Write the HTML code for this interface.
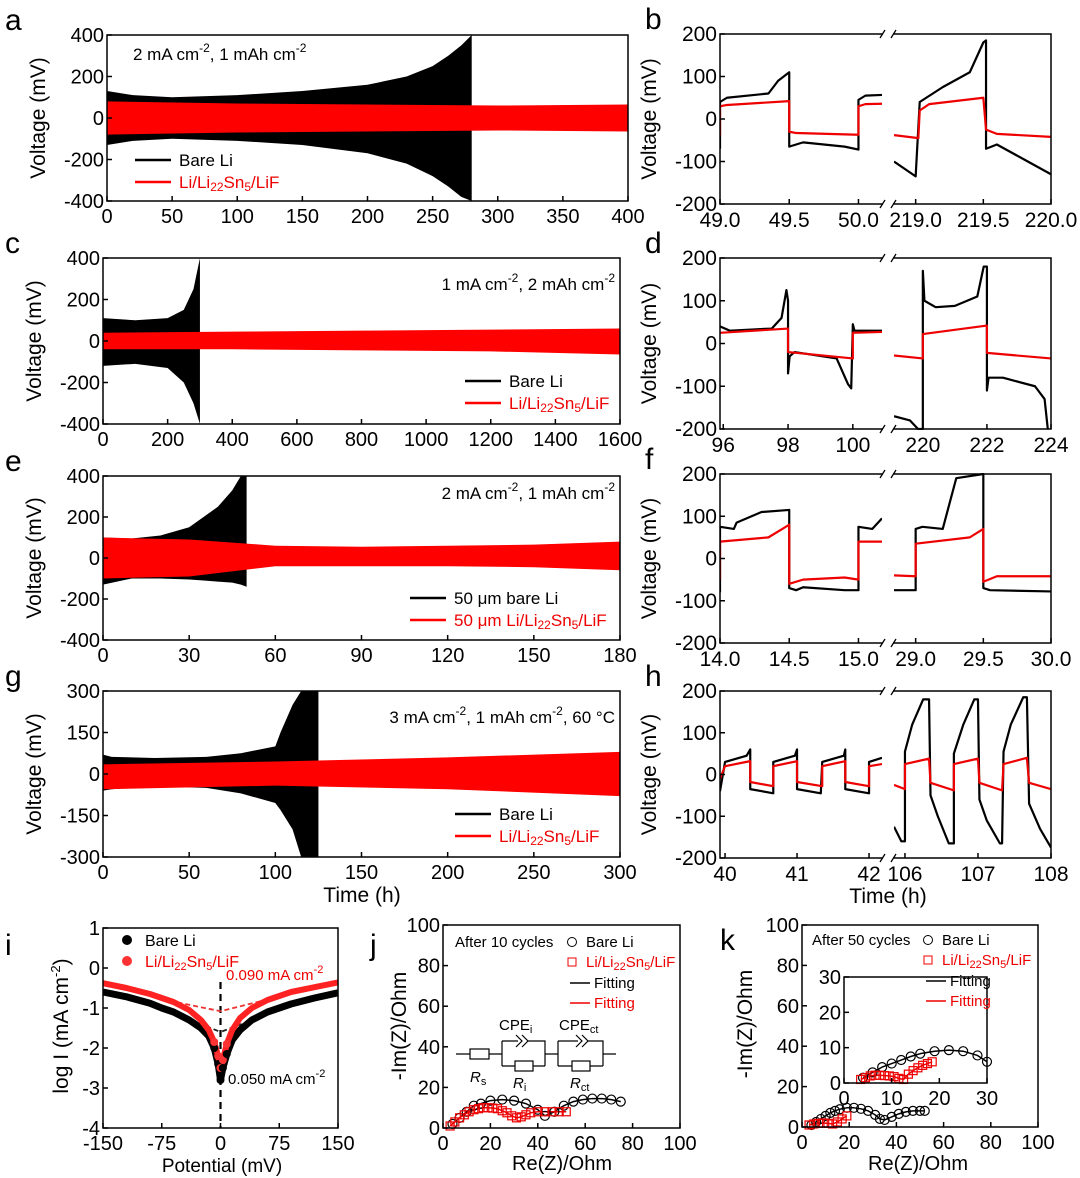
<!DOCTYPE html>
<html><head><meta charset="utf-8"><style>
body{margin:0;background:#fff}
svg{display:block;font-family:"Liberation Sans",Arial,sans-serif}
</style></head><body>
<svg id="fig" width="1080" height="1178" viewBox="0 0 1080 1178" xmlns="http://www.w3.org/2000/svg"></svg>
<script>
// ---------- data ----------
const aBlackT=[0,20,50,100,150,200,230,250,262,272,280];
const aBlackHi=[130,110,100,110,130,160,200,250,300,350,400];
const aBlackLo=[-130,-110,-100,-110,-130,-170,-220,-280,-330,-380,-400];
const aRedT=[0,100,200,300,400];
const aRedHi=[80,70,65,60,65];
const aRedLo=[-80,-70,-65,-60,-65];
const bLBx=[49.0,49.0,49.0,49.05,49.35,49.42,49.5,49.5,49.6,49.9,50.0,50.0,50.05,50.2];
const bLBy=[-70,-40,40,50,60,90,110,-65,-55,-65,-72,45,55,57];
const bLRx=[49.0,49.0,49.05,49.5,49.5,49.55,50.0,50.0,50.05,50.2];
const bLRy=[-40,30,33,42,-30,-33,-37,30,35,36];
const bRBx=[218.84,219.0,219.03,219.2,219.4,219.5,219.52,219.52,219.6,219.8,220.0];
const bRBy=[-100,-135,40,75,110,180,185,-70,-60,-95,-130];
const bRRx=[218.84,219.02,219.03,219.1,219.5,219.52,219.6,220.0];
const bRRy=[-38,-45,20,35,50,-25,-35,-42];
const cBlackT=[0,100,200,250,280,300];
const cBlackHi=[110,100,110,150,250,400];
const cBlackLo=[-120,-110,-130,-200,-300,-400];
const cRedT=[0,400,800,1200,1600];
const cRedHi=[40,45,50,55,60];
const cRedLo=[-40,-40,-45,-50,-65];
const dLBx=[95.9,96.2,97.5,97.8,97.95,98.0,98.0,98.05,98.2,99.5,99.85,99.95,100.0,100.05,100.9];
const dLBy=[40,30,35,60,125,100,-70,-30,-20,-35,-95,-105,45,30,30];
const dLRx=[95.9,98.0,98.0,100.0,100.0,100.9];
const dLRy=[25,35,-20,-35,25,27];
const dRBx=[219.1,219.6,219.85,220.0,220.0,220.05,220.4,221.0,221.7,221.9,222.0,222.0,222.05,222.5,223.5,223.8,223.9];
const dRBy=[-170,-180,-200,-200,170,100,85,88,110,180,180,-110,-80,-80,-100,-130,-200];
const dRRx=[219.1,220.0,220.0,222.0,222.0,224.0];
const dRRy=[-28,-35,22,42,-22,-35];
const eBlackT=[0,10,20,30,35,40,45,48,50];
const eBlackHi=[100,95,110,150,200,250,330,400,400];
const eBlackLo=[-130,-100,-100,-105,-110,-115,-120,-130,-140];
const eRedT=[0,30,60,90,120,150,180];
const eRedHi=[100,90,60,55,60,65,80];
const eRedLo=[-100,-90,-40,-40,-40,-45,-60];
const fLBx=[14.0,14.0,14.1,14.12,14.3,14.5,14.5,14.55,14.6,14.9,15.0,15.0,15.1,15.17];
const fLBy=[-80,75,70,85,110,115,-70,-75,-68,-75,-75,75,70,95];
const fLRx=[14.0,14.0,14.35,14.45,14.5,14.5,14.6,14.9,15.0,15.0,15.17];
const fLRy=[-50,40,50,70,80,-60,-50,-45,-50,40,40];
const fRBx=[28.84,29.0,29.0,29.05,29.2,29.25,29.3,29.5,29.5,29.55,30.0];
const fRBy=[-75,-75,70,75,70,130,190,200,-70,-75,-78];
const fRRx=[28.84,29.0,29.0,29.4,29.5,29.5,29.6,30.0];
const fRRy=[-40,-42,35,50,70,-55,-42,-42];
const gBlackT=[0,5,30,60,80,100,103,110,115,125];
const gBlackHi=[70,62,58,62,75,100,150,250,300,300];
const gBlackLo=[-60,-55,-45,-50,-70,-105,-130,-200,-300,-300];
const gRedT=[0,100,200,300];
const gRedHi=[35,45,60,80];
const gRedLo=[-55,-42,-55,-80];
const hLBx=[39.93,40.0,40.3,40.35,40.35,40.67,40.67,40.97,41.0,41.0,41.33,41.35,41.65,41.67,41.67,42.0,42.0,42.18];
const hLBy=[-40,30,45,60,-35,-45,30,45,60,-35,-45,30,45,60,-35,-45,30,40];
const hLRx=[39.93,40.0,40.35,40.35,40.67,40.67,41.0,41.0,41.35,41.35,41.67,41.67,42.0,42.0,42.18];
const hLRy=[-10,20,32,-18,-28,20,32,-18,-28,20,32,-18,-28,20,25];
const hRBx=[105.85,105.95,106.0,106.0,106.1,106.25,106.33,106.35,106.45,106.6,106.67,106.67,106.8,106.95,107.0,107.02,107.12,107.3,107.33,107.35,107.45,107.62,107.67,107.7,107.85,108.0];
const hRBy=[-125,-160,-160,55,120,180,180,-50,-100,-165,-165,50,120,180,180,-60,-110,-165,-165,55,120,185,185,-70,-130,-175];
const hRRx=[105.85,106.0,106.0,106.33,106.35,106.67,106.67,107.0,107.02,107.33,107.35,107.67,107.7,108.0];
const hRRy=[-25,-35,25,38,-20,-38,25,38,-20,-38,25,40,-20,-35];
const iPot=[-150,-120,-90,-75,-60,-40,-25,-15,-8,-3,0,3,8,15,25,40,60,75,90,120,150];
const iBlack=[-0.6,-0.72,-0.88,-1.0,-1.1,-1.3,-1.5,-1.7,-2.0,-2.4,-2.8,-2.5,-2.15,-1.8,-1.55,-1.3,-1.1,-1.0,-0.9,-0.75,-0.62];
const iRed=[-0.38,-0.5,-0.65,-0.75,-0.85,-1.05,-1.3,-1.55,-1.85,-2.2,-2.5,-2.3,-1.9,-1.55,-1.25,-1.0,-0.8,-0.7,-0.6,-0.48,-0.36];
const jBx=[4,7,10,13,16,20,25,30,35,40,43,47,51,55,59,63,67,71,75];
const jBy=[2,5,8,11,12,13.5,14,13.5,12,9,6,8,11,13,14,14.5,14.5,14,13];
const jRx=[3,5,7,9,11,13,15,17,19,21,23,25,27,29,31,33,35,37,40,43,46,49,52];
const jRy=[1,3,5,6.5,8,9,9.5,10,10,9.8,9.5,8.5,7.5,6,5,5.5,6.5,7.5,8,8,8,8,8];
const kBx=[4,6,8,10,12,14,16,19,22,25,28,31,33,35,38,41,44,47,50,52];
const kBy=[1,2.5,4,5.5,7,8,8.8,9.5,9.5,9,8,6,4,3.5,5,6.5,7.5,8,8,8];
const kRx=[3,5,7,9,11,13,15,17,19];
const kRy=[1,1.5,1.8,2,1.8,1.5,2.5,4,5.5];
const kIBx=[4,6,8,10,12,14,16,19,22,25,28,30];
const kIBy=[1.5,3,4.5,5.5,6.5,7.5,8.3,9,9.3,9,7.8,6];
const kIRx=[3.5,4.5,5.5,6.5,7.5,8.5,9.5,10.5,11.5,12.5,13.5,14.5,15.5,16.5,17.5,18.5];
const kIRy=[1,1.5,2,2.2,2.2,2.1,2,1.8,1.3,1,2.5,3.5,4.3,5,5.5,6];

// ---------- helpers ----------
const S=document.getElementById('fig');const NS='http://www.w3.org/2000/svg';
function el(t,a,p){const e=document.createElementNS(NS,t);for(const k in a)e.setAttribute(k,a[k]);(p||S).appendChild(e);return e;}
function lin(d0,d1,p0,p1){return v=>p0+(v-d0)*(p1-p0)/(d1-d0);}
function txt(x,y,s,opt){const o=Object.assign({x:x,y:y,'font-size':20,fill:'#000'},opt||{});const t=el('text',o);t.innerHTML=s;return t;}
function frame(x0,y0,x1,y1,name){const r=el('rect',{x:x0,y:y0,width:x1-x0,height:y1-y0,fill:'none',stroke:'#000','stroke-width':1.5});}
function xTicks(X,vals,yb,labels,fs){vals.forEach((v,i)=>{el('line',{x1:X(v),x2:X(v),y1:yb,y2:yb-5,stroke:'#000','stroke-width':1.5});const t=txt(X(v),yb+(fs?fs+2:22),labels?labels[i]:String(v),{'text-anchor':'middle','font-size':fs||20});});}
function yTicks(Y,vals,xl,labels,fs){vals.forEach((v,i)=>{el('line',{x1:xl,x2:xl+5,y1:Y(v),y2:Y(v),stroke:'#000','stroke-width':1.5});const t=txt(xl-3,Y(v)+7,labels?labels[i]:String(v),{'text-anchor':'end','font-size':fs||20});});}
function ylabel(x,yc,s){const t=txt(x,yc,s,{'text-anchor':'middle','font-size':21,transform:`rotate(-90 ${x} ${yc})`});}
function letter(x,y,s){const t=txt(x,y,s,{'font-size':30});}
function band(X,Y,ts,hi,lo,col,name,p){let pts=ts.map((t,i)=>X(t)+','+Y(hi[i]));for(let i=ts.length-1;i>=0;i--)pts.push(X(ts[i])+','+Y(lo[i]));const g=el('polygon',{points:pts.join(' '),fill:col},p);}
function line(X,Y,xs,ys,col,name,extra,p){const g=el('polyline',Object.assign({points:xs.map((x,i)=>X(x)+','+Y(ys[i])).join(' '),fill:'none',stroke:col,'stroke-width':2.2,'stroke-linejoin':'round'},extra||{}),p);}
const SUB='Li/Li<tspan font-size="12" dy="3">22</tspan><tspan dy="-3">Sn</tspan><tspan font-size="12" dy="3">5</tspan><tspan dy="-3">/LiF</tspan>';
function legend(x,y,col,label,name){el('line',{x1:x,x2:x+36,y1:y,y2:y,stroke:col,'stroke-width':2.5});const t=txt(x+44,y+6,label,{'font-size':17,fill:col=='#f00'?'#e00':'#000'});}
function clip(id,x0,y0,x1,y1){const c=el('clipPath',{id:id});el('rect',{x:x0,y:y0,width:x1-x0,height:y1-y0},c);}

// ---------- cycling panels ----------
function cyc(o){
  const X=lin(o.xr[0],o.xr[1],o.x0,o.x1),Y=lin(o.yr[0],o.yr[1],o.y1,o.y0);
  clip('c'+o.l,o.x0,o.y0,o.x1,o.y1);
  const g=el('g',{'clip-path':`url(#c${o.l})`});
  band(X,Y,o.bt,o.bh,o.bl,'#000','bare-li-band',g);band(X,Y,o.rt,o.rh,o.rl,'#f00','coated-li-band',g);
  frame(o.x0,o.y0,o.x1,o.y1,'plot-frame-'+o.l);
  xTicks(X,o.xt,o.y1);yTicks(Y,o.yt,o.x0);ylabel(o.x0-62,(o.y0+o.y1)/2,'Voltage (mV)');letter(5,o.y0-5,o.l);
}
cyc({l:'a',x0:107,x1:628,y0:35,y1:201,xr:[0,400],yr:[-400,400],xt:[0,50,100,150,200,250,300,350,400],yt:[400,200,0,-200,-400],bt:aBlackT,bh:aBlackHi,bl:aBlackLo,rt:aRedT,rh:aRedHi,rl:aRedLo});
cyc({l:'c',x0:103,x1:620,y0:258,y1:424,xr:[0,1600],yr:[-400,400],xt:[0,200,400,600,800,1000,1200,1400,1600],yt:[400,200,0,-200,-400],bt:cBlackT,bh:cBlackHi,bl:cBlackLo,rt:cRedT,rh:cRedHi,rl:cRedLo});
cyc({l:'e',x0:103,x1:620,y0:476,y1:640,xr:[0,180],yr:[-400,400],xt:[0,30,60,90,120,150,180],yt:[400,200,0,-200,-400],bt:eBlackT,bh:eBlackHi,bl:eBlackLo,rt:eRedT,rh:eRedHi,rl:eRedLo});
cyc({l:'g',x0:103,x1:620,y0:691,y1:857,xr:[0,300],yr:[-300,300],xt:[0,50,100,150,200,250,300],yt:[300,150,0,-150,-300],bt:gBlackT,bh:gBlackHi,bl:gBlackLo,rt:gRedT,rh:gRedHi,rl:gRedLo});
txt(133,60,'2 mA cm<tspan font-size="12" dy="-8">-2</tspan><tspan dy="8">, 1 mAh cm</tspan><tspan font-size="12" dy="-8">-2</tspan>',{'font-size':17});
legend(135,160,'#000','Bare Li','legend-bare-li');legend(135,182,'#f00',SUB,'legend-coated-li');
txt(615,290,'1 mA cm<tspan font-size="12" dy="-8">-2</tspan><tspan dy="8">, 2 mAh cm</tspan><tspan font-size="12" dy="-8">-2</tspan>',{'font-size':17,'text-anchor':'end'});
legend(465,381,'#000','Bare Li','legend-bare-li');legend(465,403,'#f00',SUB,'legend-coated-li');
txt(615,499,'2 mA cm<tspan font-size="12" dy="-8">-2</tspan><tspan dy="8">, 1 mAh cm</tspan><tspan font-size="12" dy="-8">-2</tspan>',{'font-size':17,'text-anchor':'end'});
legend(410,598,'#000','50 μm bare Li','legend-bare-li');legend(410,620,'#f00','50 μm '+SUB,'legend-coated-li');
txt(615,723,'3 mA cm<tspan font-size="12" dy="-8">-2</tspan><tspan dy="8">, 1 mAh cm</tspan><tspan font-size="12" dy="-8">-2</tspan><tspan dy="8">, 60 °C</tspan>',{'font-size':17,'text-anchor':'end'});
legend(455,814,'#000','Bare Li','legend-bare-li');legend(455,836,'#f00',SUB,'legend-coated-li');
txt(362,902,'Time (h)',{'font-size':21,'text-anchor':'middle'});

// ---------- zoomed split panels ----------
function split(o){
  const x0=720,x1=1051,bk=888,Y=lin(-200,200,o.y1,o.y0);
  const XL=lin(o.lr[0],o.lr[1],x0,bk-6),XR=lin(o.rr[0],o.rr[1],bk+6,x1);
  clip('zl'+o.l,x0,o.y0-1,bk-6,o.y1+1);clip('zr'+o.l,bk+6,o.y0-1,x1,o.y1+1);
  let g=el('g',{'clip-path':`url(#zl${o.l})`});
  line(XL,Y,o.lbx,o.lby,'#000','bare-li-trace',{},g);line(XL,Y,o.lrx,o.lry,'#e00','coated-li-trace',{},g);
  g=el('g',{'clip-path':`url(#zr${o.l})`});
  line(XR,Y,o.rbx,o.rby,'#000','bare-li-trace',{},g);line(XR,Y,o.rrx,o.rry,'#e00','coated-li-trace',{},g);
  frame(x0,o.y0,x1,o.y1,'plot-frame-'+o.l);
  el('rect',{x:bk-5,y:o.y0-3,width:10,height:6,fill:'#fff'});el('rect',{x:bk-5,y:o.y1-3,width:10,height:6,fill:'#fff'});
  ['y0','y1'].forEach(k=>{el('line',{x1:bk-8,y1:o[k]+4,x2:bk-3,y2:o[k]-4,stroke:'#000','stroke-width':1.3});el('line',{x1:bk+3,y1:o[k]+4,x2:bk+8,y2:o[k]-4,stroke:'#000','stroke-width':1.3});});
  xTicks(XL,o.lt,o.y1,o.ltl,21);xTicks(XR,o.rt,o.y1,o.rtl,21);
  yTicks(Y,[200,100,0,-100,-200],x0,null,21);ylabel(x0-64,(o.y0+o.y1)/2,'Voltage (mV)');letter(645,o.y0-5,o.l);
}
split({l:'b',y0:34,y1:204,lr:[49.0,50.17],rr:[218.84,220.0],lt:[49,49.5,50],ltl:['49.0','49.5','50.0'],rt:[219,219.5,220],rtl:['219.0','219.5','220.0'],lbx:bLBx,lby:bLBy,lrx:bLRx,lry:bLRy,rbx:bRBx,rby:bRBy,rrx:bRRx,rry:bRRy});
split({l:'d',y0:258,y1:429,lr:[95.9,100.9],rr:[219.1,224.0],lt:[96,98,100],rt:[220,222,224],lbx:dLBx,lby:dLBy,lrx:dLRx,lry:dLRy,rbx:dRBx,rby:dRBy,rrx:dRRx,rry:dRRy});
split({l:'f',y0:474,y1:643,lr:[14.0,15.17],rr:[28.84,30.0],lt:[14,14.5,15],ltl:['14.0','14.5','15.0'],rt:[29,29.5,30],rtl:['29.0','29.5','30.0'],lbx:fLBx,lby:fLBy,lrx:fLRx,lry:fLRy,rbx:fRBx,rby:fRBy,rrx:fRRx,rry:fRRy});
split({l:'h',y0:691,y1:858,lr:[39.93,42.18],rr:[105.85,108.0],lt:[40,41,42],rt:[106,107,108],lbx:hLBx,lby:hLBy,lrx:hLRx,lry:hLRy,rbx:hRBx,rby:hRBy,rrx:hRRx,rry:hRRy});
txt(888,903,'Time (h)',{'font-size':21,'text-anchor':'middle'});

// ---------- panel i ----------
(function(){
  const X=lin(-150,150,103,338),Y=lin(-4,1,1128,928);
  el('line',{x1:X(0),x2:X(0),y1:Y(-0.35),y2:Y(-4),stroke:'#000','stroke-width':2.2,'stroke-dasharray':'7,5'});
  [[-75,-1.0,0,-1.6],[75,-1.05,0,-1.6]].forEach(d=>el('line',{x1:X(d[0]),y1:Y(d[1]),x2:X(d[2]),y2:Y(d[3]),stroke:'#222','stroke-width':1.8,'stroke-dasharray':'5,3'}));
  [[-75,-0.78,0,-1.08],[150,-0.35,0,-1.08]].forEach(d=>el('line',{x1:X(d[0]),y1:Y(d[1]),x2:X(d[2]),y2:Y(d[3]),stroke:'#e33','stroke-width':1.8,'stroke-dasharray':'5,3'}));
  line(X,Y,iPot,iBlack,'#000','bare-li-tafel',{'stroke-width':7});
  line(X,Y,iPot,iRed,'#f22','coated-li-tafel',{'stroke-width':6});
  iPot.forEach((p,i)=>{if(Math.abs(p)>8)return;const c=el('circle',{cx:X(p),cy:Y(iBlack[i]),r:4,fill:'#000'});const d=el('circle',{cx:X(p),cy:Y(iRed[i]),r:4,fill:'#f33'});});
  frame(103,928,338,1128,'plot-frame-i');
  xTicks(X,[-150,-75,0,75,150],1128);yTicks(Y,[1,0,-1,-2,-3,-4],103);
  ylabel(68,1026,'log I (mA cm<tspan font-size="13" dy="-8">-2</tspan><tspan dy="8">)</tspan>');
  txt(222,1172,'Potential (mV)',{'font-size':19,'text-anchor':'middle'});letter(5,955,'i');
  el('circle',{cx:127,cy:940,r:5,fill:'#000'});txt(145,946,'Bare Li',{'font-size':16});
  el('circle',{cx:127,cy:961,r:5,fill:'#f33'});txt(145,967,SUB.replace(/12/g,'11'),{'font-size':16,fill:'#e00'});
  txt(226,980,'0.090 mA cm<tspan font-size="11" dy="-7">-2</tspan>',{'font-size':15,fill:'#e00'});
  txt(228,1084,'0.050 mA cm<tspan font-size="11" dy="-7">-2</tspan>',{'font-size':15});
})();

// ---------- Nyquist ----------
function nyq(o){
  const X=lin(o.xr[0],o.xr[1],o.x0,o.x1),Y=lin(o.yr[0],o.yr[1],o.y1,o.y0);
  line(X,Y,o.bx,o.by,'#000','bare-li-fit',{'stroke-width':1.5});line(X,Y,o.rx,o.ry,'#e00','coated-li-fit',{'stroke-width':1.5});
  o.bx.forEach((x,i)=>{const c=el('circle',{cx:X(x),cy:Y(o.by[i]),r:4.5,fill:'none',stroke:'#000','stroke-width':1.2});});
  o.rx.forEach((x,i)=>{const c=el('rect',{x:X(x)-4,y:Y(o.ry[i])-4,width:8,height:8,fill:'none',stroke:'#e00','stroke-width':1.2});});
  frame(o.x0,o.y0,o.x1,o.y1,'plot-frame-'+o.l);
  xTicks(X,o.xt,o.y1);yTicks(Y,o.yt,o.x0);
}
nyq({l:'j',x0:443,x1:680,y0:925,y1:1128,xr:[0,100],yr:[0,100],xt:[0,20,40,60,80,100],yt:[0,20,40,60,80,100],bx:jBx,by:jBy,rx:jRx,ry:jRy});
ylabel(406,1026,'-Im(Z)/Ohm');txt(562,1170,'Re(Z)/Ohm',{'font-size':20,'text-anchor':'middle'});letter(370,955,'j');
nyq({l:'k',x0:802,x1:1038,y0:925,y1:1127,xr:[0,100],yr:[0,100],xt:[0,20,40,60,80,100],yt:[0,20,40,60,80,100],bx:kBx,by:kBy,rx:kRx,ry:kRy});
el('rect',{x:844,y:977,width:143,height:106,fill:'#fff'});
nyq({l:'k-inset',x0:844,x1:987,y0:977,y1:1083,xr:[0,30],yr:[0,30],xt:[0,10,20,30],yt:[0,10,20,30],bx:kIBx,by:kIBy,rx:kIRx,ry:kIRy});
ylabel(752,1024,'-Im(Z)/Ohm');txt(918,1170,'Re(Z)/Ohm',{'font-size':20,'text-anchor':'middle'});letter(720,950,'k');
function nleg(x,y,cx,title){txt(x,y,title,{'font-size':15});
  el('circle',{cx:cx,cy:y-5,r:4.5,fill:'none',stroke:'#000'});txt(cx+14,y,'Bare Li',{'font-size':15});
  el('rect',{x:cx-4,y:y+11,width:8,height:8,fill:'none',stroke:'#e00'});txt(cx+14,y+20,SUB.replace(/12/g,'11'),{'font-size':15,fill:'#e00'});
  el('line',{x1:cx-2,x2:cx+18,y1:y+36,y2:y+36,stroke:'#000','stroke-width':1.5});txt(cx+22,y+41,'Fitting',{'font-size':15});
  el('line',{x1:cx-2,x2:cx+18,y1:y+56,y2:y+56,stroke:'#e00','stroke-width':1.5});txt(cx+22,y+61,'Fitting',{'font-size':15,fill:'#e00'});}
nleg(455,947,572,'After 10 cycles');nleg(812,945,928,'After 50 cycles');
(function(){const g=el('g',{stroke:'#000','stroke-width':1.2,fill:'none'});
  el('path',{d:'M456 1054 H470 M489 1054 H502 M502 1041 V1066 M502 1041 H518 M528 1041 H545 V1066 M502 1066 H515 M533 1066 H545 M545 1054 H558 M558 1041 V1066 M558 1041 H578 M588 1041 H603 V1066 M558 1066 H572 M590 1066 H603 M603 1054 H616'},g);
  el('rect',{x:470,y:1049,width:19,height:10},g);el('rect',{x:515,y:1061,width:18,height:10},g);el('rect',{x:572,y:1061,width:18,height:10},g);
  el('path',{d:'M516 1035 l6 6 -6 6 M522 1035 l6 6 -6 6 M576 1035 l6 6 -6 6 M582 1035 l6 6 -6 6'},g);
  txt(499,1030,'CPE<tspan font-size="11" dy="3">i</tspan>',{'font-size':15});txt(559,1030,'CPE<tspan font-size="11" dy="3">ct</tspan>',{'font-size':15});
  txt(470,1082,'<tspan font-style="italic">R</tspan><tspan font-size="11" dy="3">s</tspan>',{'font-size':15});
  txt(513,1088,'<tspan font-style="italic">R</tspan><tspan font-size="11" dy="3">i</tspan>',{'font-size':15});
  txt(570,1088,'<tspan font-style="italic">R</tspan><tspan font-size="11" dy="3">ct</tspan>',{'font-size':15});
})();
</script>
</body></html>
